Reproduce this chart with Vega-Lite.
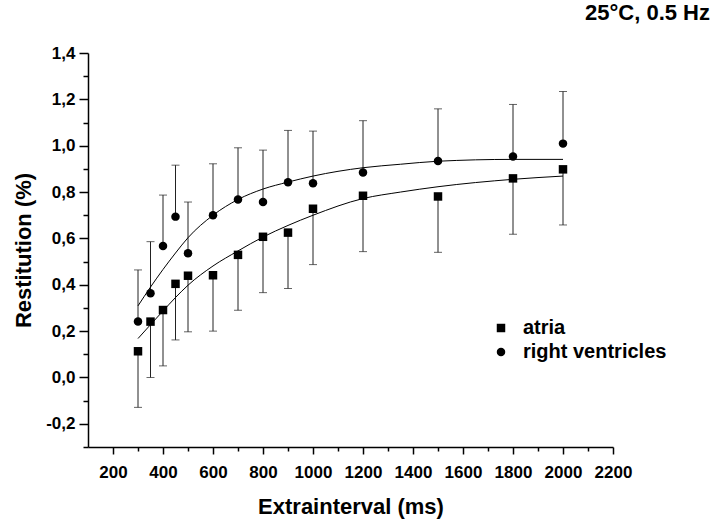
{
  "$schema": "https://vega.github.io/schema/vega-lite/v6.json",
  "width": 525,
  "height": 394,
  "autosize": "none",
  "padding": {"left": 88, "top": 53, "right": 102, "bottom": 75},
  "background": "white",
  "config": {
    "view": {"stroke": null},
    "font": "Liberation Sans",
    "axis": {
      "grid": false,
      "domainColor": "black",
      "domainWidth": 1.5,
      "tickColor": "black",
      "tickWidth": 1.5,
      "labelColor": "black",
      "labelFont": "Liberation Sans",
      "labelFontWeight": "bold",
      "labelFontSize": 17,
      "labelFlush": false,
      "labelOverlap": false,
      "labelBound": false,
      "titleColor": "black",
      "titleFont": "Liberation Sans",
      "titleFontWeight": "bold",
      "titleFontSize": 22
    }
  },
  "title": {
    "text": "25°C, 0.5 Hz",
    "anchor": "end",
    "frame": "group",
    "fontSize": 22,
    "fontWeight": "bold",
    "font": "Liberation Sans",
    "color": "black",
    "baseline": "bottom",
    "offset": 0,
    "dy": 3,
    "dx": 97
  },
  "resolve": {"axis": {"x": "independent", "y": "independent"}},
  "datasets": {
    "pts": [
      {"series": "atria", "ms": 300, "mean": 0.113, "bar": -0.129},
      {"series": "atria", "ms": 350, "mean": 0.241, "bar": 0.0},
      {"series": "atria", "ms": 400, "mean": 0.291, "bar": 0.05},
      {"series": "atria", "ms": 450, "mean": 0.404, "bar": 0.162},
      {"series": "atria", "ms": 500, "mean": 0.439, "bar": 0.197},
      {"series": "atria", "ms": 600, "mean": 0.441, "bar": 0.2},
      {"series": "atria", "ms": 700, "mean": 0.529, "bar": 0.29},
      {"series": "atria", "ms": 800, "mean": 0.607, "bar": 0.366},
      {"series": "atria", "ms": 900, "mean": 0.625, "bar": 0.384},
      {"series": "atria", "ms": 1000, "mean": 0.728, "bar": 0.487},
      {"series": "atria", "ms": 1200, "mean": 0.784, "bar": 0.543},
      {"series": "atria", "ms": 1500, "mean": 0.781, "bar": 0.54},
      {"series": "atria", "ms": 1800, "mean": 0.859, "bar": 0.618},
      {"series": "atria", "ms": 2000, "mean": 0.898, "bar": 0.658},
      {"series": "right ventricles", "ms": 300, "mean": 0.241, "bar": 0.464},
      {"series": "right ventricles", "ms": 350, "mean": 0.363, "bar": 0.586},
      {"series": "right ventricles", "ms": 400, "mean": 0.567, "bar": 0.787},
      {"series": "right ventricles", "ms": 450, "mean": 0.694, "bar": 0.916},
      {"series": "right ventricles", "ms": 500, "mean": 0.536, "bar": 0.757},
      {"series": "right ventricles", "ms": 600, "mean": 0.7, "bar": 0.922},
      {"series": "right ventricles", "ms": 700, "mean": 0.768, "bar": 0.991},
      {"series": "right ventricles", "ms": 800, "mean": 0.757, "bar": 0.981},
      {"series": "right ventricles", "ms": 900, "mean": 0.842, "bar": 1.066},
      {"series": "right ventricles", "ms": 1000, "mean": 0.838, "bar": 1.063},
      {"series": "right ventricles", "ms": 1200, "mean": 0.884, "bar": 1.108},
      {"series": "right ventricles", "ms": 1500, "mean": 0.934, "bar": 1.159},
      {"series": "right ventricles", "ms": 1800, "mean": 0.953, "bar": 1.178},
      {"series": "right ventricles", "ms": 2000, "mean": 1.009, "bar": 1.234}
    ],
    "fit": [
      {"series": "atria", "ms": 300, "mean": 0.168},
      {"series": "atria", "ms": 400, "mean": 0.287},
      {"series": "atria", "ms": 450, "mean": 0.345},
      {"series": "atria", "ms": 500, "mean": 0.398},
      {"series": "atria", "ms": 600, "mean": 0.481},
      {"series": "atria", "ms": 700, "mean": 0.546},
      {"series": "atria", "ms": 800, "mean": 0.606},
      {"series": "atria", "ms": 900, "mean": 0.656},
      {"series": "atria", "ms": 1000, "mean": 0.7},
      {"series": "atria", "ms": 1200, "mean": 0.772},
      {"series": "atria", "ms": 1350, "mean": 0.8},
      {"series": "atria", "ms": 1500, "mean": 0.823},
      {"series": "atria", "ms": 1800, "mean": 0.855},
      {"series": "atria", "ms": 2000, "mean": 0.869},
      {"series": "right ventricles", "ms": 300, "mean": 0.309},
      {"series": "right ventricles", "ms": 350, "mean": 0.39},
      {"series": "right ventricles", "ms": 400, "mean": 0.466},
      {"series": "right ventricles", "ms": 450, "mean": 0.537},
      {"series": "right ventricles", "ms": 500, "mean": 0.603},
      {"series": "right ventricles", "ms": 600, "mean": 0.7},
      {"series": "right ventricles", "ms": 700, "mean": 0.768},
      {"series": "right ventricles", "ms": 800, "mean": 0.813},
      {"series": "right ventricles", "ms": 900, "mean": 0.843},
      {"series": "right ventricles", "ms": 1000, "mean": 0.869},
      {"series": "right ventricles", "ms": 1200, "mean": 0.905},
      {"series": "right ventricles", "ms": 1350, "mean": 0.92},
      {"series": "right ventricles", "ms": 1500, "mean": 0.933},
      {"series": "right ventricles", "ms": 1800, "mean": 0.941},
      {"series": "right ventricles", "ms": 2000, "mean": 0.941}
    ]
  },
  "layer": [
    {
      "data": {"name": "pts"},
      "mark": {"type": "rule", "color": "#222222", "strokeWidth": 1},
      "encoding": {
        "x": {
          "field": "ms",
          "type": "quantitative",
          "scale": {"domain": [100, 2200], "nice": false, "zero": false},
          "axis": {
            "orient": "bottom",
            "title": "Extrainterval (ms)",
            "titleY": 66,
            "titleBaseline": "alphabetic",
            "values": [200, 400, 600, 800, 1000, 1200, 1400, 1600, 1800, 2000, 2200],
            "format": "d",
            "tickSize": 7,
            "labelPadding": 10
          }
        },
        "y": {
          "field": "mean",
          "type": "quantitative",
          "scale": {"domain": [-0.3, 1.4], "nice": false, "zero": false},
          "axis": {
            "orient": "left",
            "title": "Restitution (%)",
            "titleX": -65,
            "titleY": 197,
            "titleAngle": 270,
            "titleAlign": "center",
            "titleBaseline": "middle",
            "values": [-0.2, 0, 0.2, 0.4, 0.6, 0.8, 1.0, 1.2, 1.4],
            "labelExpr": "replace(replace(format(datum.value, '.1f'), '.', ','), '\u2212', '-')",
            "tickSize": 9,
            "labelPadding": 4
          }
        },
        "y2": {"field": "bar"}
      }
    },
    {
      "data": {"name": "pts"},
      "mark": {"type": "tick", "orient": "horizontal", "color": "#222222", "size": 8, "thickness": 1},
      "encoding": {
        "x": {
          "field": "ms",
          "type": "quantitative",
          "axis": {
            "orient": "bottom",
            "title": null,
            "labels": false,
            "domain": false,
            "tickSize": 4,
            "values": [300, 500, 700, 900, 1100, 1300, 1500, 1700, 1900, 2100]
          }
        },
        "y": {
          "field": "bar",
          "type": "quantitative",
          "axis": {
            "orient": "left",
            "title": null,
            "labels": false,
            "domain": false,
            "tickSize": 5,
            "values": [-0.3, -0.1, 0.1, 0.3, 0.5, 0.7, 0.9, 1.1, 1.3]
          }
        }
      }
    },
    {
      "data": {"name": "fit"},
      "mark": {"type": "line", "color": "black", "strokeWidth": 1, "interpolate": "monotone"},
      "encoding": {
        "x": {"field": "ms", "type": "quantitative", "axis": null},
        "y": {"field": "mean", "type": "quantitative", "axis": null},
        "detail": {"field": "series", "type": "nominal"}
      }
    },
    {
      "data": {"name": "pts"},
      "mark": {"type": "point", "filled": true, "color": "black", "opacity": 1, "size": 72},
      "encoding": {
        "x": {"field": "ms", "type": "quantitative", "axis": null},
        "y": {"field": "mean", "type": "quantitative", "axis": null},
        "shape": {
          "field": "series",
          "type": "nominal",
          "scale": {"domain": ["atria", "right ventricles"], "range": ["square", "circle"]},
          "legend": {
            "title": null,
            "orient": "none",
            "legendX": 403,
            "legendY": 265,
            "labelFont": "Liberation Sans",
            "labelFontSize": 20,
            "labelFontWeight": "bold",
            "labelColor": "black",
            "labelLimit": 300,
            "symbolFillColor": "black",
            "symbolStrokeColor": "black",
            "symbolStrokeWidth": 0,
            "symbolOpacity": 1,
            "symbolSize": 72,
            "labelOffset": 12,
            "rowPadding": 4
          }
        }
      }
    }
  ]
}
